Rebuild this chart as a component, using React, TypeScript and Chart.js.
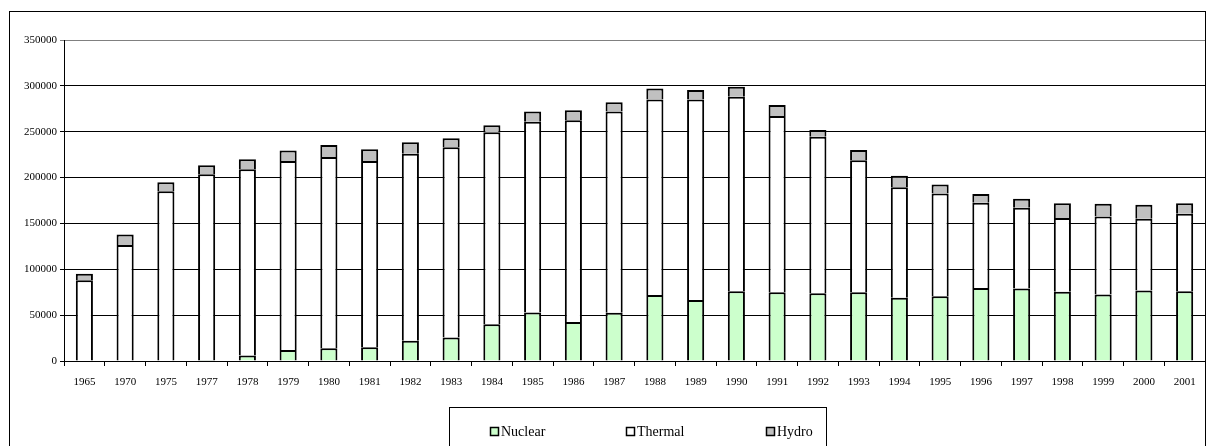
import React, { useEffect, useRef } from "react";
import { Chart, registerables } from "chart.js";

Chart.register(...registerables);

const years = ["1965","1970","1975","1977","1978","1979","1980","1981","1982","1983","1984","1985","1986","1987","1988","1989","1990","1991","1992","1993","1994","1995","1996","1997","1998","1999","2000","2001"];
const nuclear = [0,0,0,1000,6000,12000,14000,15000,22000,25500,40000,53000,42500,52500,72000,66500,76000,75000,74000,75000,69000,70500,79500,79000,75500,72500,77000,76000];
const thermal = [88000,126500,185000,202500,203000,206000,208500,203000,204000,207500,209500,208000,220000,219500,213000,218500,212000,192000,170500,144000,120500,112000,93000,88000,80500,85000,78000,84500];
const hydro = [7000,11500,10000,10000,11000,11500,13000,13000,12500,10000,7500,11000,11000,10000,12000,10500,11000,12000,7500,11000,12500,10000,9500,10000,16000,14000,15500,11500];
const yTicks = [0,50000,100000,150000,200000,250000,300000,350000];

const seriesNames = ["Nuclear", "Thermal", "Hydro"];
const seriesColors = ["#CCFFCC", "#FFFFFF", "#C0C0C0"];
const FONT = '"Liberation Serif", "Times New Roman", serif';

const framePlugin = {
  id: "framePlugin",
  afterDraw(chart: any) {
    const ctx = chart.ctx;
    ctx.save();
    ctx.strokeStyle = "#000";
    ctx.lineWidth = 1;
    ctx.strokeRect(9.5, 11.5, 1196, 450);
    // legend box
    ctx.strokeRect(449.5, 407.5, 377, 60);
    const xs = [490, 626, 766];
    ctx.font = "14px " + FONT;
    ctx.textBaseline = "middle";
    ctx.textAlign = "left";
    for (let i = 0; i < 3; i++) {
      ctx.fillStyle = seriesColors[i];
      ctx.fillRect(xs[i], 427, 9, 9);
      ctx.lineWidth = 1.5;
      ctx.strokeStyle = "#000";
      ctx.strokeRect(xs[i] + 0.5, 427.5, 8, 8);
      ctx.fillStyle = "#000";
      ctx.fillText(seriesNames[i], xs[i] + 11, 432);
    }
    ctx.restore();
  },
};

export default function App() {
  const ref = useRef<HTMLCanvasElement | null>(null);
  useEffect(() => {
    if (!ref.current) return;
    const data = [nuclear, thermal, hydro];
    const chart = new Chart(ref.current, {
      type: "bar",
      data: {
        labels: years,
        datasets: seriesNames.map((n, i) => ({
          label: n,
          data: data[i],
          backgroundColor: seriesColors[i],
          borderColor: "#000",
          borderWidth: 2,
          borderSkipped: "start",
          barPercentage: 0.42,
          categoryPercentage: 1,
        })),
      },
      options: {
        animation: false,
        responsive: false,
        maintainAspectRatio: false,
        layout: { padding: { left: 0, right: 4, top: 40, bottom: 55 } },
        plugins: { legend: { display: false }, tooltip: { enabled: false }, title: { display: false } },
        scales: {
          x: {
            stacked: true,
            afterFit: (s: any) => { s.height = 30; },
            grid: { display: true, drawOnChartArea: false, drawTicks: true, tickLength: 5, offset: true, color: "#000" },
            border: { color: "#000", width: 1 },
            ticks: { color: "#000", font: { family: FONT, size: 11 }, padding: 10, maxRotation: 0, autoSkip: false },
          },
          y: {
            stacked: true,
            min: 0,
            max: 350000,
            afterFit: (s: any) => { s.width = 64; },
            afterBuildTicks: (s: any) => { s.ticks = yTicks.map((v) => ({ value: v })); },
            grid: {
              color: (c: any) => (c.tick && c.tick.value === 350000 ? "#808080" : "#000"),
              tickLength: 4,
            },
            border: { color: "#000", width: 1 },
            ticks: { color: "#000", font: { family: FONT, size: 11 }, padding: 3, callback: (v: any) => String(v) },
          },
        },
      },
      plugins: [framePlugin],
    });
    return () => chart.destroy();
  }, []);
  return (
    <div style={{ position: "absolute", left: 0, top: 0, width: 1209, height: 446, background: "#fff" }}>
      <canvas ref={ref} width={1209} height={446} style={{ display: "block", width: 1209, height: 446 }} />
    </div>
  );
}
